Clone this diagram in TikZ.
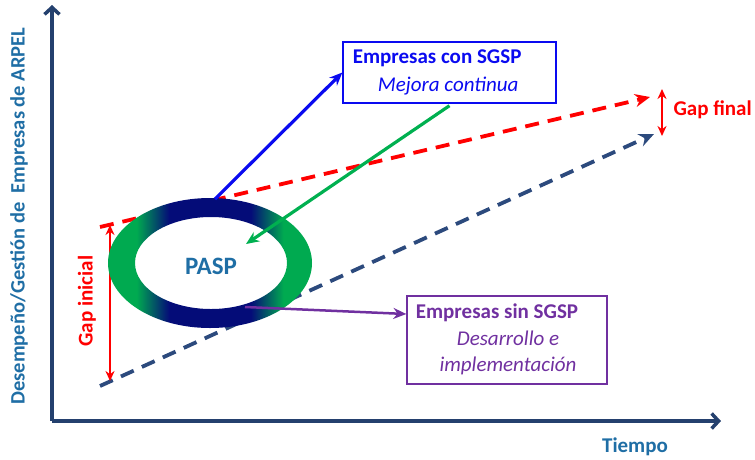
\documentclass[tikz,border=0pt]{standalone}
\usepackage{fontspec}
\setmainfont{Carlito}
\usetikzlibrary{arrows.meta}
\definecolor{axisblue}{RGB}{36,64,110}
\definecolor{labelblue}{RGB}{31,110,165}
\definecolor{dashblue}{RGB}{44,74,125}
\definecolor{ringnavy}{RGB}{4,12,120}
\definecolor{ringgreen}{RGB}{0,170,80}
\definecolor{arrowgreen}{RGB}{0,176,80}
\definecolor{sinpurple}{RGB}{112,48,160}
\definecolor{conblue}{RGB}{10,10,240}
\pgfdeclarehorizontalshading{ringshade}{100bp}{color(0bp)=(ringgreen); color(32bp)=(ringgreen); color(40bp)=(ringnavy); color(60bp)=(ringnavy); color(68bp)=(ringgreen); color(100bp)=(ringgreen)}
\tikzset{
  axis/.style={line width=3.8pt,axisblue,-{Straight Barb[length=7pt,width=15pt,line width=3.5pt]}},
  trend/.style={line width=3.8pt,dash pattern=on 14pt off 9pt,-{Stealth[length=15pt,width=13pt]}},
  gap/.style={line width=2.6pt,red,{Stealth[length=10pt,width=9pt]}-{Stealth[length=10pt,width=9pt]}},
  link/.style={line width=3.2pt,-{Stealth[length=13pt,width=11pt]}},
  infobox/.style={draw,line width=1.3pt,rectangle,inner sep=0pt},
  lbl/.style={font=\fontsize{21}{23}\selectfont\bfseries},
  sub/.style={font=\fontsize{21}{26}\selectfont\itshape}
}
\begin{document}
\begin{tikzpicture}[x=1pt,y=-1pt]
\useasboundingbox (0,0) rectangle (755,459);
\coordinate (O) at (52,421);
\coordinate (Ytop) at (52,5);
\coordinate (Xend) at (721,421);
\draw [axis] (O) -- (Ytop);
\draw [axis] (O) -- (Xend);
\node [lbl,font=\fontsize{20.5}{22}\selectfont\bfseries,labelblue,rotate=90] (ylabel) at (19,216) {Desempeño/Gestión de\ \ Empresas de ARPEL};
\node [lbl,labelblue] (tiempo) at (635,447) {Tiempo};
% trend lines
\coordinate (r0) at (100,227);
\coordinate (r1) at (650,97);
\coordinate (b0) at (100,386);
\coordinate (b1) at (654,134);
\draw [trend,red] (r0) -- (r1);
\draw [trend,dashblue] (b0) -- (b1);
% gaps
\coordinate (gf0) at (662,89);
\coordinate (gf1) at (662,136);
\draw [gap] (gf0) -- (gf1);
\node [lbl,red,anchor=west] (gapfinal) at (670,110) {Gap final};
\coordinate (gi0) at (110,225);
\coordinate (gi1) at (110,381);
\draw [gap] (gi0) -- (gi1);
\node [lbl,red,rotate=90] (gapinicial) at (87,301) {Gap inicial};
% ring
\shade [shading=ringshade,even odd rule]
  (210,263) ellipse [x radius=102,y radius=65]
  (211,263) ellipse [x radius=76,y radius=46];
\node [font=\fontsize{25}{27}\selectfont\bfseries,labelblue] (pasp) at (211,266) {PASP};
\coordinate (ringtop) at (215,199);
\coordinate (ringbot) at (245,307);
\coordinate (ringin) at (246,244);
% boxes
\node [infobox,conblue,minimum width=213pt,minimum height=61pt] (con) at (449.5,72.5) {};
\node [lbl,conblue,anchor=east] (contitle) at (525,58) {Empresas con SGSP};
\node [sub,conblue,anchor=east] (consub) at (522,86) {Mejora continua};
\node [infobox,sinpurple,minimum width=200pt,minimum height=88pt] (sin) at (507,340) {};
\node [lbl,sinpurple] (sintitle) at (497,313) {Empresas sin SGSP};
\node [sub,sinpurple,align=center] (sinsub) at (508,353) {Desarrollo e\\implementación};
% links
\draw [link,conblue] (ringtop) -- (con.west);
\draw [link,arrowgreen] (con.south) ++(0,2) coordinate (gs) (gs) -- (ringin);
\draw [link,sinpurple,line width=2.5pt] (ringbot) -- (sin.west |- 0,314);
\end{tikzpicture}
\end{document}
